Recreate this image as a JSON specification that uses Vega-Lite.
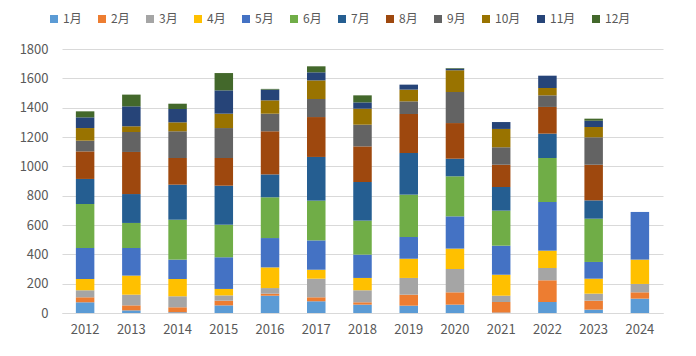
{
  "$schema": "https://vega.github.io/schema/vega-lite/v6.json",
  "width": 601,
  "height": 264,
  "autosize": {"type": "none"},
  "padding": {"left": 62, "top": 49, "right": 33, "bottom": 43},
  "background": "white",
  "config": {
    "view": {"stroke": null},
    "font": "Noto Sans CJK SC",
    "axis": {"labelFont": "Noto Sans CJK SC", "labelColor": "#595959", "labelFontSize": 13},
    "legend": {"labelFont": "Noto Sans CJK SC"}
  },
  "data": {"values": [
    {"y":"2012","m":1,"mon":"1月","v":73},{"y":"2012","m":2,"mon":"2月","v":34},{"y":"2012","m":3,"mon":"3月","v":48},{"y":"2012","m":4,"mon":"4月","v":77},{"y":"2012","m":5,"mon":"5月","v":211},{"y":"2012","m":6,"mon":"6月","v":300},{"y":"2012","m":7,"mon":"7月","v":171},{"y":"2012","m":8,"mon":"8月","v":188},{"y":"2012","m":9,"mon":"9月","v":73},{"y":"2012","m":10,"mon":"10月","v":86},{"y":"2012","m":11,"mon":"11月","v":73},{"y":"2012","m":12,"mon":"12月","v":41},
    {"y":"2013","m":1,"mon":"1月","v":18},{"y":"2013","m":2,"mon":"2月","v":34},{"y":"2013","m":3,"mon":"3月","v":73},{"y":"2013","m":4,"mon":"4月","v":130},{"y":"2013","m":5,"mon":"5月","v":188},{"y":"2013","m":6,"mon":"6月","v":171},{"y":"2013","m":7,"mon":"7月","v":197},{"y":"2013","m":8,"mon":"8月","v":287},{"y":"2013","m":9,"mon":"9月","v":136},{"y":"2013","m":10,"mon":"10月","v":39},{"y":"2013","m":11,"mon":"11月","v":136},{"y":"2013","m":12,"mon":"12月","v":80},
    {"y":"2014","m":1,"mon":"1月","v":5},{"y":"2014","m":2,"mon":"2月","v":34},{"y":"2014","m":3,"mon":"3月","v":75},{"y":"2014","m":4,"mon":"4月","v":118},{"y":"2014","m":5,"mon":"5月","v":132},{"y":"2014","m":6,"mon":"6月","v":272},{"y":"2014","m":7,"mon":"7月","v":239},{"y":"2014","m":8,"mon":"8月","v":182},{"y":"2014","m":9,"mon":"9月","v":182},{"y":"2014","m":10,"mon":"10月","v":61},{"y":"2014","m":11,"mon":"11月","v":91},{"y":"2014","m":12,"mon":"12月","v":36},
    {"y":"2015","m":1,"mon":"1月","v":52},{"y":"2015","m":2,"mon":"2月","v":32},{"y":"2015","m":3,"mon":"3月","v":36},{"y":"2015","m":4,"mon":"4月","v":44},{"y":"2015","m":5,"mon":"5月","v":216},{"y":"2015","m":6,"mon":"6月","v":222},{"y":"2015","m":7,"mon":"7月","v":266},{"y":"2015","m":8,"mon":"8月","v":189},{"y":"2015","m":9,"mon":"9月","v":204},{"y":"2015","m":10,"mon":"10月","v":98},{"y":"2015","m":11,"mon":"11月","v":159},{"y":"2015","m":12,"mon":"12月","v":118},
    {"y":"2016","m":1,"mon":"1月","v":118},{"y":"2016","m":2,"mon":"2月","v":14},{"y":"2016","m":3,"mon":"3月","v":38},{"y":"2016","m":4,"mon":"4月","v":141},{"y":"2016","m":5,"mon":"5月","v":200},{"y":"2016","m":6,"mon":"6月","v":278},{"y":"2016","m":7,"mon":"7月","v":156},{"y":"2016","m":8,"mon":"8月","v":294},{"y":"2016","m":9,"mon":"9月","v":120},{"y":"2016","m":10,"mon":"10月","v":91},{"y":"2016","m":11,"mon":"11月","v":73},{"y":"2016","m":12,"mon":"12月","v":5},
    {"y":"2017","m":1,"mon":"1月","v":80},{"y":"2017","m":2,"mon":"2月","v":27},{"y":"2017","m":3,"mon":"3月","v":127},{"y":"2017","m":4,"mon":"4月","v":61},{"y":"2017","m":5,"mon":"5月","v":200},{"y":"2017","m":6,"mon":"6月","v":271},{"y":"2017","m":7,"mon":"7月","v":298},{"y":"2017","m":8,"mon":"8月","v":272},{"y":"2017","m":9,"mon":"9月","v":123},{"y":"2017","m":10,"mon":"10月","v":127},{"y":"2017","m":11,"mon":"11月","v":55},{"y":"2017","m":12,"mon":"12月","v":41},
    {"y":"2018","m":1,"mon":"1月","v":57},{"y":"2018","m":2,"mon":"2月","v":16},{"y":"2018","m":3,"mon":"3月","v":82},{"y":"2018","m":4,"mon":"4月","v":84},{"y":"2018","m":5,"mon":"5月","v":159},{"y":"2018","m":6,"mon":"6月","v":232},{"y":"2018","m":7,"mon":"7月","v":263},{"y":"2018","m":8,"mon":"8月","v":243},{"y":"2018","m":9,"mon":"9月","v":148},{"y":"2018","m":10,"mon":"10月","v":109},{"y":"2018","m":11,"mon":"11月","v":43},{"y":"2018","m":12,"mon":"12月","v":48},
    {"y":"2019","m":1,"mon":"1月","v":50},{"y":"2019","m":2,"mon":"2月","v":75},{"y":"2019","m":3,"mon":"3月","v":114},{"y":"2019","m":4,"mon":"4月","v":131},{"y":"2019","m":5,"mon":"5月","v":148},{"y":"2019","m":6,"mon":"6月","v":289},{"y":"2019","m":7,"mon":"7月","v":284},{"y":"2019","m":8,"mon":"8月","v":266},{"y":"2019","m":9,"mon":"9月","v":86},{"y":"2019","m":10,"mon":"10月","v":80},{"y":"2019","m":11,"mon":"11月","v":34},{"y":"2019","m":12,"mon":"12月","v":0},
    {"y":"2020","m":1,"mon":"1月","v":57},{"y":"2020","m":2,"mon":"2月","v":84},{"y":"2020","m":3,"mon":"3月","v":159},{"y":"2020","m":4,"mon":"4月","v":139},{"y":"2020","m":5,"mon":"5月","v":220},{"y":"2020","m":6,"mon":"6月","v":273},{"y":"2020","m":7,"mon":"7月","v":120},{"y":"2020","m":8,"mon":"8月","v":243},{"y":"2020","m":9,"mon":"9月","v":212},{"y":"2020","m":10,"mon":"10月","v":148},{"y":"2020","m":11,"mon":"11月","v":11},{"y":"2020","m":12,"mon":"12月","v":4},
    {"y":"2021","m":1,"mon":"1月","v":3},{"y":"2021","m":2,"mon":"2月","v":72},{"y":"2021","m":3,"mon":"3月","v":43},{"y":"2021","m":4,"mon":"4月","v":143},{"y":"2021","m":5,"mon":"5月","v":198},{"y":"2021","m":6,"mon":"6月","v":239},{"y":"2021","m":7,"mon":"7月","v":161},{"y":"2021","m":8,"mon":"8月","v":152},{"y":"2021","m":9,"mon":"9月","v":119},{"y":"2021","m":10,"mon":"10月","v":125},{"y":"2021","m":11,"mon":"11月","v":47},{"y":"2021","m":12,"mon":"12月","v":0},
    {"y":"2022","m":1,"mon":"1月","v":75},{"y":"2022","m":2,"mon":"2月","v":148},{"y":"2022","m":3,"mon":"3月","v":84},{"y":"2022","m":4,"mon":"4月","v":118},{"y":"2022","m":5,"mon":"5月","v":332},{"y":"2022","m":6,"mon":"6月","v":300},{"y":"2022","m":7,"mon":"7月","v":166},{"y":"2022","m":8,"mon":"8月","v":182},{"y":"2022","m":9,"mon":"9月","v":79},{"y":"2022","m":10,"mon":"10月","v":50},{"y":"2022","m":11,"mon":"11月","v":84},{"y":"2022","m":12,"mon":"12月","v":0},
    {"y":"2023","m":1,"mon":"1月","v":23},{"y":"2023","m":2,"mon":"2月","v":61},{"y":"2023","m":3,"mon":"3月","v":48},{"y":"2023","m":4,"mon":"4月","v":102},{"y":"2023","m":5,"mon":"5月","v":114},{"y":"2023","m":6,"mon":"6月","v":295},{"y":"2023","m":7,"mon":"7月","v":125},{"y":"2023","m":8,"mon":"8月","v":243},{"y":"2023","m":9,"mon":"9月","v":187},{"y":"2023","m":10,"mon":"10月","v":70},{"y":"2023","m":11,"mon":"11月","v":43},{"y":"2023","m":12,"mon":"12月","v":14},
    {"y":"2024","m":1,"mon":"1月","v":98},{"y":"2024","m":2,"mon":"2月","v":43},{"y":"2024","m":3,"mon":"3月","v":57},{"y":"2024","m":4,"mon":"4月","v":166},{"y":"2024","m":5,"mon":"5月","v":325}
  ]},
  "mark": {"type": "bar"},
  "encoding": {
    "x": {
      "field": "y", "type": "nominal",
      "scale": {"paddingInner": 0.6, "paddingOuter": 0.3},
      "axis": {"title": null, "labelAngle": 0, "ticks": false, "domain": true, "domainColor": "#D9D9D9", "labelPadding": 10, "labelFontSize": 13}
    },
    "y": {
      "field": "v", "type": "quantitative", "stack": "zero",
      "scale": {"domain": [0, 1800], "nice": false},
      "axis": {"title": null, "format": "d", "values": [0,200,400,600,800,1000,1200,1400,1600,1800], "domain": false, "ticks": false, "gridColor": "#D9D9D9", "labelPadding": 14, "labelFontSize": 13}
    },
    "order": {"field": "m", "type": "quantitative", "sort": "ascending"},
    "color": {
      "field": "mon", "type": "nominal",
      "sort": ["1月","2月","3月","4月","5月","6月","7月","8月","9月","10月","11月","12月"],
      "scale": {
        "domain": ["1月","2月","3月","4月","5月","6月","7月","8月","9月","10月","11月","12月"],
        "range": ["#5B9BD5","#ED7D31","#A5A5A5","#FFC000","#4472C4","#70AD47","#255E91","#9E480E","#636363","#997300","#264478","#43682B"]
      },
      "legend": {
        "title": null, "orient": "none", "direction": "horizontal",
        "legendX": -14, "legendY": -36,
        "symbolType": "square", "symbolSize": 64, "symbolStrokeWidth": 0,
        "labelFontSize": 12, "labelColor": "#595959", "columnPadding": 14, "labelOffset": 3
      }
    }
  }
}
